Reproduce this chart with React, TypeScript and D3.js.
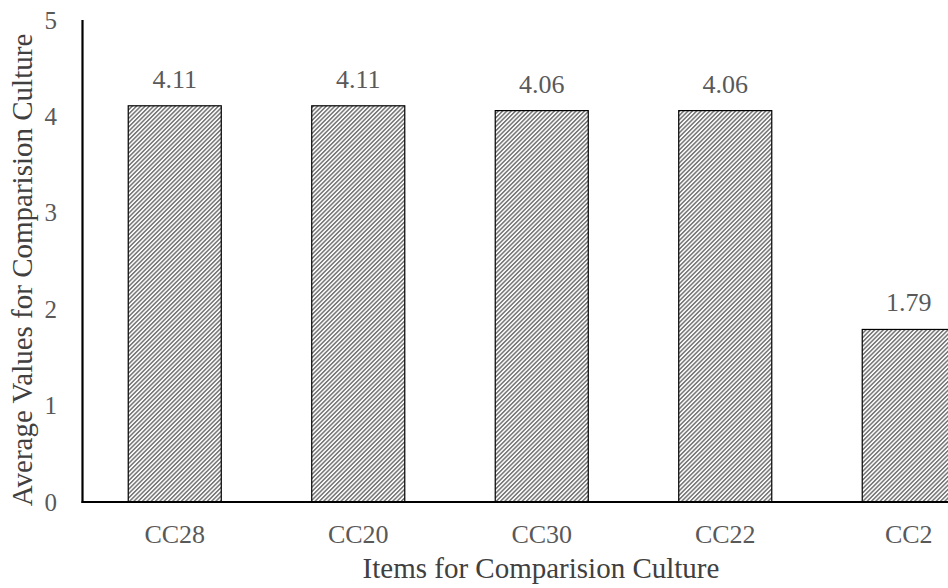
import React from "react";
import * as d3 from "d3";

const categories = ["CC28", "CC20", "CC30", "CC22", "CC2"];
const values = [4.11, 4.11, 4.06, 4.06, 1.79];
const yTicks = [0, 1, 2, 3, 4, 5];
const xTitle = "Items for Comparision Culture";
const yTitle = "Average Values for Comparision Culture";

const W = 948;
const H = 588;
const FONT = "'Liberation Serif', 'Times New Roman', serif";
const TEXT = "#595959";

export default function App() {
  const x = d3
    .scaleBand<string>()
    .domain(categories)
    .range([83, 1000.5])
    .paddingInner(0.493)
    .paddingOuter(0.2465);
  const y = d3.scaleLinear().domain([0, 5]).range([502, 20]);

  return (
    <svg
      width={W}
      height={H}
      style={{ position: "absolute", left: 0, top: 0, background: "#fff" }}
      fontFamily={FONT}
    >
      <defs>
        <pattern
          id="hatch"
          patternUnits="userSpaceOnUse"
          width={3.05}
          height={3.05}
          patternTransform="rotate(45)"
        >
          <rect width={3.05} height={3.05} fill="#ffffff" />
          <line x1={0.8} y1={0} x2={0.8} y2={3.05} stroke="#7a7a7a" strokeWidth={1.6} />
        </pattern>
      </defs>

      {categories.map((c, i) => (
        <g key={c}>
          <rect
            x={x(c)}
            y={y(values[i])}
            width={x.bandwidth()}
            height={y(0) - y(values[i])}
            fill="url(#hatch)"
            stroke="#000"
            strokeWidth={1.2}
          />
          <text
            x={(x(c) as number) + x.bandwidth() / 2}
            y={y(values[i]) - 18}
            textAnchor="middle"
            fontSize={26}
            fill={TEXT}
          >
            {values[i].toFixed(2)}
          </text>
          <text
            x={(x(c) as number) + x.bandwidth() / 2}
            y={543}
            textAnchor="middle"
            fontSize={26}
            fill={TEXT}
          >
            {c}
          </text>
        </g>
      ))}

      {yTicks.map((t) => (
        <text key={t} x={57} y={y(t) + 8.5} textAnchor="end" fontSize={25} fill={TEXT}>
          {t}
        </text>
      ))}

      <line x1={82.5} y1={y(5)} x2={82.5} y2={y(0) + 1} stroke="#000" strokeWidth={2.2} />
      <line x1={81.5} y1={y(0)} x2={W} y2={y(0)} stroke="#000" strokeWidth={2.2} />

      <text x={541} y={578} textAnchor="middle" fontSize={29} fill="#404040">
        {xTitle}
      </text>
      <text
        transform={`translate(32, 270) rotate(-90)`}
        textAnchor="middle"
        fontSize={29}
        fill="#404040"
      >
        {yTitle}
      </text>
    </svg>
  );
}
